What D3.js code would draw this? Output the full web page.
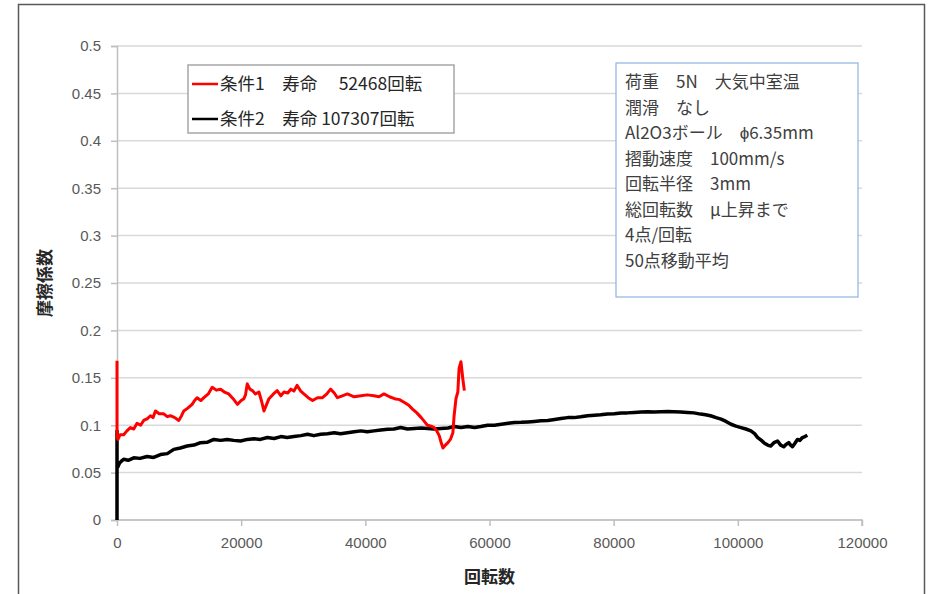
<!DOCTYPE html>
<html>
<head>
<meta charset="utf-8">
<script src="https://cdn.jsdelivr.net/npm/d3@7"></script>
<style>
  body { margin: 0; background: #fff; overflow: hidden; }
  svg { display: block; }
  text { font-family: "Liberation Sans Narrow", "Liberation Sans", "Noto Sans CJK JP", sans-serif; }
</style>
</head>
<body>
<svg id="svg1" width="935" height="594"></svg>
<script>
margin = { top: 46, right: 73, bottom: 74, left: 117 };

// data
yTicks = [0, 0.05, 0.1, 0.15, 0.2, 0.25, 0.3, 0.35, 0.4, 0.45, 0.5];
yTickLabels = ["0", "0.05", "0.1", "0.15", "0.2", "0.25", "0.3", "0.35", "0.4", "0.45", "0.5"];
xTicks = [0, 20000, 40000, 60000, 80000, 100000, 120000];

redX = [0, 0, 150, 500, 1075, 1600, 2150, 2700, 3230, 3800, 4300, 4900, 5380, 5800, 6190, 6800, 7530, 8100, 8600, 9300, 9950, 10400, 10760, 11400, 12100, 12500, 12900, 13500, 14000, 14700, 15330, 16000, 16680, 17300, 18000, 18700, 19400, 20000, 20440, 20700, 20980, 21400, 21800, 22300, 22860, 23300, 23670, 24100, 24480, 25200, 25800, 26400, 26900, 27500, 28000, 28500, 29000, 29600, 30100, 30800, 31500, 32300, 33100, 33800, 34400, 35000, 35500, 36300, 37100, 38200, 39300, 40300, 41400, 42200, 43000, 43900, 44700, 45500, 46300, 47000, 47600, 48300, 49000, 49500, 50000, 50600, 51100, 51500, 51900, 52200, 52500, 52900, 53300, 53700, 54100, 54300, 54600, 54900, 55100, 55400, 55700, 55950];
redY = [0.168, 0.087, 0.085, 0.09, 0.09, 0.094, 0.0975, 0.096, 0.102, 0.1, 0.105, 0.107, 0.11, 0.108, 0.115, 0.112, 0.112, 0.109, 0.11, 0.108, 0.105, 0.11, 0.115, 0.118, 0.122, 0.126, 0.129, 0.126, 0.129, 0.133, 0.14, 0.137, 0.138, 0.135, 0.133, 0.128, 0.122, 0.126, 0.128, 0.132, 0.1436, 0.138, 0.1365, 0.133, 0.135, 0.125, 0.115, 0.122, 0.128, 0.133, 0.1365, 0.131, 0.135, 0.134, 0.138, 0.136, 0.142, 0.136, 0.133, 0.129, 0.126, 0.129, 0.129, 0.133, 0.138, 0.134, 0.129, 0.131, 0.133, 0.13, 0.131, 0.132, 0.131, 0.13, 0.133, 0.13, 0.128, 0.127, 0.124, 0.121, 0.117, 0.113, 0.108, 0.104, 0.1, 0.099, 0.0975, 0.094, 0.089, 0.082, 0.076, 0.079, 0.0816, 0.085, 0.092, 0.11, 0.128, 0.135, 0.16, 0.167, 0.149, 0.1365];

blackX = [0, 0, 0, 150, 400, 700, 1075, 1800, 2700, 3700, 4840, 5900, 7000, 8100, 9150, 10200, 11300, 12400, 13450, 14500, 15600, 16700, 17750, 18800, 19900, 21000, 22060, 23100, 24200, 25300, 26400, 27400, 28500, 29600, 30700, 31700, 32800, 33900, 35000, 36000, 37100, 38200, 39300, 40300, 41400, 42500, 43600, 44600, 45700, 46800, 47900, 49000, 50000, 51100, 52200, 53300, 54300, 55400, 56500, 57600, 58600, 59700, 60800, 61900, 63000, 64000, 65100, 66200, 67200, 68300, 69400, 70500, 71500, 72600, 73600, 74700, 75800, 76900, 77900, 79000, 80100, 81200, 82200, 83300, 84400, 85500, 86500, 87600, 88700, 89700, 90800, 91900, 92900, 94000, 94800, 95600, 96500, 97300, 98100, 98900, 99700, 100500, 101300, 102100, 102700, 103200, 103800, 104300, 104800, 105300, 105900, 106400, 106900, 107400, 107800, 108200, 108500, 108800, 109200, 109600, 110000, 110400, 110800, 111200];
blackY = [0, 0.094, 0.0585, 0.056, 0.06, 0.062, 0.064, 0.063, 0.0656, 0.065, 0.067, 0.066, 0.069, 0.07, 0.0745, 0.076, 0.078, 0.079, 0.0816, 0.082, 0.085, 0.084, 0.085, 0.084, 0.0833, 0.085, 0.0858, 0.085, 0.087, 0.086, 0.088, 0.087, 0.088, 0.089, 0.0904, 0.089, 0.0904, 0.091, 0.092, 0.091, 0.092, 0.093, 0.094, 0.093, 0.094, 0.095, 0.0957, 0.096, 0.0975, 0.096, 0.0965, 0.097, 0.0965, 0.096, 0.0965, 0.097, 0.0986, 0.0975, 0.0986, 0.0975, 0.0986, 0.1, 0.1, 0.101, 0.102, 0.1028, 0.103, 0.1035, 0.104, 0.1046, 0.105, 0.106, 0.107, 0.108, 0.108, 0.1089, 0.11, 0.1106, 0.111, 0.1117, 0.112, 0.1128, 0.113, 0.1135, 0.114, 0.1142, 0.114, 0.1142, 0.1145, 0.1142, 0.114, 0.1135, 0.113, 0.1117, 0.111, 0.11, 0.108, 0.1064, 0.104, 0.101, 0.099, 0.0975, 0.096, 0.094, 0.091, 0.087, 0.084, 0.081, 0.079, 0.078, 0.082, 0.0833, 0.079, 0.0773, 0.08, 0.0816, 0.079, 0.0773, 0.081, 0.085, 0.084, 0.087, 0.088, 0.0894];

legendLabels = ["条件1　寿命　 52468回転", "条件2　寿命 107307回転"];
seriesColors = ["#ff0000", "#000000"];
infoLines = ["荷重　5N　大気中室温", "潤滑　なし", "Al2O3ボール　ϕ6.35mm", "摺動速度　100mm/s", "回転半径　3mm", "総回転数　μ上昇まで", "4点/回転", "50点移動平均"];

document.addEventListener('DOMContentLoaded', function() {
  svg = d3.select('#svg1');
  svgWidth = +svg.attr('width');
  svgHeight = +svg.attr('height');
  plotWidth = svgWidth - margin.left - margin.right;
  plotHeight = svgHeight - margin.top - margin.bottom;
  drawChart();
});

function drawChart() {
  // outer frame (bottom edge is off the picture)
  svg.append('path')
     .attr('d', 'M18.5,594V4.5H924.5V594')
     .style('fill', 'none')
     .style('stroke', '#595959')
     .style('stroke-width', 1.5);

  var xScale = d3.scaleLinear().domain([0, 120000]).range([0, plotWidth]);
  var yScale = d3.scaleLinear().domain([0, 0.5]).range([plotHeight, 0]);

  g = svg.append('g')
         .attr('transform', `translate(${margin.left},${margin.top})`);

  // gridlines
  g.selectAll('.grid')
   .data(yTicks)
   .enter()
   .append('line')
   .attr('x1', 0).attr('x2', plotWidth)
   .attr('y1', d => yScale(d)).attr('y2', d => yScale(d))
   .style('stroke', '#d9d9d9')
   .style('stroke-width', 1.5);

  var yAxis = g.append('g')
     .call(d3.axisLeft(yScale).tickValues(yTicks).tickSize(6).tickPadding(10)
             .tickFormat((d, i) => yTickLabels[i]));
  var xAxis = g.append('g')
     .attr('transform', `translate(0,${plotHeight})`)
     .call(d3.axisBottom(xScale).tickValues(xTicks).tickSize(6).tickPadding(11)
             .tickFormat(d3.format('d')));
  [yAxis, xAxis].forEach(function(a) {
    a.select('.domain').style('stroke', '#bfbfbf').style('stroke-width', 1.5);
    a.selectAll('.tick line').style('stroke', '#bfbfbf').style('stroke-width', 1.5);
    a.selectAll('text')
     .style('font-size', '15px')
     .style('fill', '#595959')
     .style('font-family', '"Liberation Sans Narrow", "Liberation Sans", sans-serif');
  });
  xAxis.select('.domain').attr('d', `M0,0H${plotWidth}V6`);

  var line = d3.line()
     .x(d => xScale(d[0]))
     .y(d => yScale(d[1]));

  var blackData = blackX.map((x, i) => [x, blackY[i]]);
  var redData = redX.map((x, i) => [x, redY[i]]);

  g.append('path')
   .datum(blackData)
   .style('fill', 'none')
   .style('stroke', seriesColors[1])
   .style('stroke-width', 3.5)
   .style('stroke-linejoin', 'round')
   .attr('d', line);
  g.append('path')
   .datum(redData)
   .style('fill', 'none')
   .style('stroke', seriesColors[0])
   .style('stroke-width', 3)
   .style('stroke-linejoin', 'round')
   .attr('d', line);

  // legend
  var lg = svg.append('g').attr('transform', 'translate(188,65)');
  lg.append('rect')
    .attr('width', 266).attr('height', 68)
    .style('fill', '#fff')
    .style('stroke', '#a6a6a6')
    .style('stroke-width', 1.5);
  legendLabels.forEach(function(t, i) {
    lg.append('line')
      .attr('x1', 4).attr('x2', 30)
      .attr('y1', 19 + i * 35).attr('y2', 19 + i * 35)
      .style('stroke', seriesColors[i])
      .style('stroke-width', 2.5);
    lg.append('text')
      .attr('x', 32).attr('y', 25 + i * 35)
      .style('font-size', '17.5px')
      .style('font-family', '"Noto Sans CJK JP", sans-serif')
      .style('fill', '#262626')
      .text(t);
  });

  // info box
  var ib = svg.append('g').attr('transform', 'translate(616,63)');
  ib.append('rect')
    .attr('width', 242).attr('height', 234)
    .style('fill', '#fff')
    .style('stroke', '#8eb4e3')
    .style('stroke-width', 1.2);
  infoLines.forEach(function(t, i) {
    ib.append('text')
      .attr('x', 9).attr('y', 25 + i * 25.5)
      .style('font-size', '17px')
      .style('font-family', '"Noto Sans CJK JP", sans-serif')
      .style('fill', '#404040')
      .text(t);
  });

  // axis titles
  svg.append('text')
     .attr('transform', `translate(51,${margin.top + plotHeight / 2}) rotate(-90)`)
     .attr('text-anchor', 'middle')
     .style('font-size', '17px')
     .style('font-weight', 'bold')
     .style('font-family', '"Noto Sans CJK JP", sans-serif')
     .style('fill', '#262626')
     .text('摩擦係数');
  svg.append('text')
     .attr('x', margin.left + plotWidth / 2)
     .attr('y', 583)
     .attr('text-anchor', 'middle')
     .style('font-size', '17px')
     .style('font-weight', 'bold')
     .style('font-family', '"Noto Sans CJK JP", sans-serif')
     .style('fill', '#262626')
     .text('回転数');
}
</script>
</body>
</html>
